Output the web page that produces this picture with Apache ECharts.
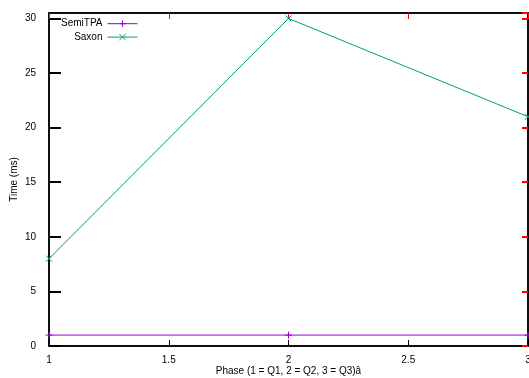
<!DOCTYPE html>
<html><head><meta charset="utf-8">
<script src="https://cdn.jsdelivr.net/npm/echarts@6/dist/echarts.min.js"></script>
<style>html,body{margin:0;padding:0;background:#fff}#c{width:529px;height:378px}</style>
</head><body><div id="c"></div>
<script>
var phases = [1, 2, 3];
var semiTPA = [1, 1, 1];
var saxon = [8, 30, 21];
var seriesNames = ['SemiTPA', 'Saxon'];
var xTicks = [1, 1.5, 2, 2.5, 3];
var yTicks = [0, 5, 10, 15, 20, 25, 30];

var FONT = 'Liberation Sans, Arial, sans-serif';
var plus = 'path://M0,5L10,5M5,0L5,10';
var cross = 'path://M0,0L10,10M10,0L0,10';
function pairs(xs, ys){ return xs.map(function(x,i){return [x, ys[i]];}); }

var chart = echarts.init(document.getElementById('c'));
function tickStyle(c, w, l){ return {show: true, inside: true, length: l, lineStyle: {color: c, width: w}}; }
function lineStyle(){ return {show: true, onZero: false, lineStyle: {color: '#000', width: 1.5}}; }
chart.setOption({
  animation: false,
  grid: {left: 49, right: 1, top: 13, bottom: 32, show: true, borderColor: '#000', borderWidth: 1.5,
    outerBoundsMode: 'none', containLabel: false},
  legend: {
    orient: 'vertical', left: 61, top: 18, itemGap: 2, align: 'right', padding: 0,
    itemWidth: 30, itemHeight: 8,
    data: seriesNames,
    lineStyle: {width: 1},
    itemStyle: {borderWidth: 1},
    textStyle: {fontFamily: FONT, fontSize: 10, color: '#000', lineHeight: 10}
  },
  xAxis: [
    {type: 'value', min: 1, max: 3, interval: 0.5,
      name: 'Phase (1 = Q1, 2 = Q2, 3 = Q3)â', nameLocation: 'middle', nameGap: 20, nameMoveOverlap: false,
      nameTextStyle: {fontFamily: FONT, fontSize: 10, color: '#000'},
      axisLine: lineStyle(), axisTick: tickStyle('#000', 1, 6), splitLine: {show: false},
      axisLabel: {fontFamily: FONT, fontSize: 10, color: '#000', margin: 9,
        formatter: function(v){ return xTicks.indexOf(v) >= 0 ? String(v) : ''; }}
    },
    {type: 'value', min: 1, max: 3, interval: 0.5, position: 'top',
      axisLine: lineStyle(), axisTick: tickStyle('#f00', 1, 6), splitLine: {show: false},
      axisLabel: {show: false}}
  ],
  yAxis: [
    {type: 'value', min: 0, max: 30.5, interval: 5,
      name: 'Time (ms)', nameLocation: 'middle', nameGap: 30, nameMoveOverlap: false,
      nameTextStyle: {fontFamily: FONT, fontSize: 10, color: '#000'},
      axisLine: lineStyle(), axisTick: tickStyle('#000', 2, 12), splitLine: {show: false},
      axisLabel: {fontFamily: FONT, fontSize: 10, color: '#000', margin: 13, showMaxLabel: false,
        formatter: function(v){ return yTicks.indexOf(v) >= 0 ? String(v) : ''; }}
    },
    {type: 'value', min: 0, max: 30.5, interval: 5, position: 'right',
      axisLine: lineStyle(), axisTick: tickStyle('#f00', 2, 6), splitLine: {show: false},
      axisLabel: {show: false}}
  ],
  series: [
    {name: 'SemiTPA', type: 'line', data: pairs(phases, semiTPA), symbol: plus, symbolSize: 7,
      lineStyle: {color: '#9400d3', width: 1}, itemStyle: {color: 'none', borderColor: '#9400d3', borderWidth: 1}},
    {name: 'Saxon', type: 'line', data: pairs(phases, saxon), symbol: cross, symbolSize: 6,
      lineStyle: {color: '#009e73', width: 1}, itemStyle: {color: 'none', borderColor: '#009e73', borderWidth: 1}}
  ]
});
</script></body></html>
